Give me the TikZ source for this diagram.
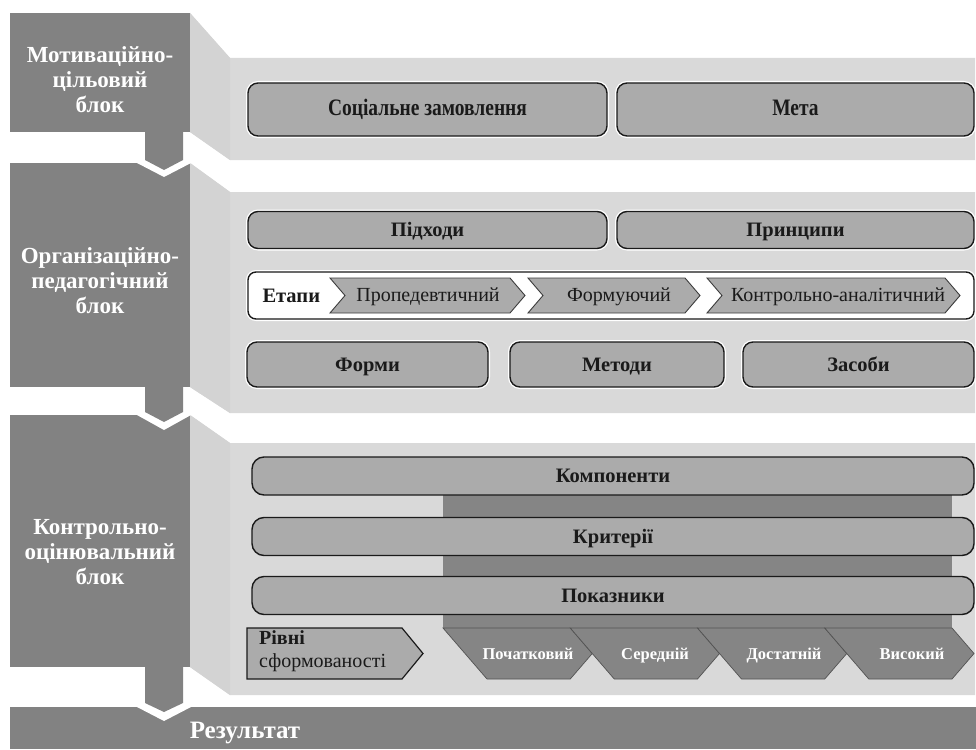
\documentclass[tikz,border=0pt]{standalone}
\usepackage{fontspec}
\setmainfont{Liberation Serif}
\usetikzlibrary{positioning}
\definecolor{blockgray}{HTML}{828282}
\definecolor{panelgray}{HTML}{D9D9D9}
\definecolor{sidegray}{HTML}{D3D3D3}
\definecolor{boxgray}{HTML}{ABABAB}
\definecolor{bandgray}{HTML}{858585}
\definecolor{ink}{HTML}{1A1A1A}
\newcommand\titlefont{\fontsize{23}{25}\selectfont\bfseries}
\newcommand\resultfont{\fontsize{25}{28}\selectfont\bfseries}
\newcommand\boxfont{\fontsize{20.5}{23}\selectfont\bfseries}
\newcommand\stagefont{\fontsize{20}{23}\selectfont}
\newcommand\levelfont{\fontsize{16.5}{19}\selectfont\bfseries}

\begin{document}
\begin{tikzpicture}[x=1pt, y=-1pt,
  roundbox/.style={draw=ink, fill=boxgray, line width=1.4pt, rounded corners=10pt,
    preaction={draw=white, line width=4pt}, text=ink, font=\boxfont, inner sep=0pt,
    text height=13.5pt, text depth=0.5pt},
  barbox/.style={draw=ink, fill=boxgray, line width=1.4pt, rounded corners=12pt,
    text=ink, font=\boxfont, inner sep=0pt, text height=13.5pt, text depth=0.5pt},
  stagebox/.style={draw=ink!85, fill=boxgray, line width=0.9pt},
  lvlshape/.style={draw=ink!75, fill=bandgray, line width=0.7pt},
  blocktitle/.style={text=white, font=\titlefont, align=center},
  stagetext/.style={text=ink, font=\stagefont, inner sep=0pt, text height=13pt, text depth=0.5pt},
  lvltext/.style={text=white, font=\levelfont, inner sep=0pt, text height=11pt, text depth=0.5pt}]

% Background
\fill[white] (0,0) rectangle (976,749);
\useasboundingbox (0,0) rectangle (976,749);

% --- Light panels (drawn before the dark blocks) ---
\fill[panelgray] (190,13) -- (230,58) -- (975,58) -- (975,160) -- (230,160) -- (190,132) -- cycle;
\fill[sidegray] (190,13) -- (230,58) -- (230,160) -- (190,132) -- cycle;

\fill[panelgray] (190,163) -- (230,192) -- (975,192) -- (975,413) -- (230,413) -- (190,387) -- cycle;
\fill[sidegray] (190,163) -- (230,192) -- (230,413) -- (190,387) -- cycle;

\fill[panelgray] (190,415) -- (230,443) -- (975,443) -- (975,695) -- (230,695) -- (190,667) -- cycle;
\fill[sidegray] (190,415) -- (230,443) -- (230,695) -- (190,667) -- cycle;

% --- Dark blocks ---
\fill[blockgray] (10,13) rectangle (190,132);
\fill[blockgray] (10,163) rectangle (190,387);
\fill[blockgray] (10,415) rectangle (190,667);
\fill[blockgray] (10,707) rectangle (976,749);

% White notches under the arrow tips
\fill[white] (137,163) -- (164,177) -- (191,163) -- cycle;
\fill[white] (137,415) -- (164,430) -- (191,415) -- cycle;
\fill[white] (137,707) -- (164,721) -- (191,707) -- cycle;

% Arrows between the blocks
\fill[blockgray] (145,130) -- (183,130) -- (183,160) -- (164,170) -- (145,160) -- cycle;
\fill[blockgray] (145,385) -- (183,385) -- (183,412) -- (164,422) -- (145,412) -- cycle;
\fill[blockgray] (145,665) -- (183,665) -- (183,703) -- (164,712) -- (145,703) -- cycle;

% --- Block titles ---
\node[blocktitle] (motiv) at (100,80) {Мотиваційно-\\цільовий\\блок};
\node[blocktitle] (orgped) at (100,281) {Організаційно-\\педагогічний\\блок};
\node[blocktitle] (kontrol) at (100,552) {Контрольно-\\оцінювальний\\блок};
\node[text=white, font=\resultfont] (result) at (245,733) {Результат};

% --- Motivation block ---
\node[roundbox, minimum width=359pt, minimum height=53pt] (zamov) at (427.5,109.5) {\scalebox{0.95}[1.15]{Соціальне замовлення}};
\node[roundbox, minimum width=357pt, minimum height=53pt] (meta) at (795.5,109.5) {\scalebox{0.95}[1.15]{Мета}};

% --- Organisation block ---
\node[roundbox, minimum width=359pt, minimum height=37pt] (pidkhody) at (427.5,230) {Підходи};
\node[roundbox, minimum width=357pt, minimum height=37pt] (pryntsypy) at (795.5,230) {Принципи};

\node[roundbox, fill=white, rounded corners=8pt, minimum width=726pt, minimum height=47pt] (etapy) at (611,295.5) {};
\node[right=15pt of etapy.west, text=ink, font=\boxfont, inner sep=0pt, text height=13.5pt, text depth=0.5pt] (etapylabel) {Етапи};

\draw[stagebox] (330,278) -- (510,278) -- (525,295.5) -- (510,313) -- (330,313) -- (345,295.5) -- cycle;
\draw[stagebox] (528,278) -- (685,278) -- (700,295.5) -- (685,313) -- (528,313) -- (543,295.5) -- cycle;
\draw[stagebox] (707,278) -- (945,278) -- (960,295.5) -- (945,313) -- (707,313) -- (722,295.5) -- cycle;
\node[stagetext] (proped) at (428,295.5) {Пропедевтичний};
\node[stagetext] (formuy) at (619,295.5) {Формуючий};
\node[stagetext] (kontran) at (838,295.5) {Контрольно-аналітичний};

\node[roundbox, minimum width=241pt, minimum height=45pt] (formy) at (367.5,364.5) {Форми};
\node[roundbox, minimum width=214pt, minimum height=45pt] (metody) at (617,364.5) {Методи};
\node[roundbox, minimum width=231pt, minimum height=45pt] (zasoby) at (858.5,364.5) {Засоби};

% --- Control block ---
\fill[bandgray] (443,476) rectangle (952,628);

\node[barbox, minimum width=722pt, minimum height=38pt] (kompon) at (613,476) {Компоненти};
\node[barbox, minimum width=722pt, minimum height=38pt] (kryter) at (613,536.5) {Критерії};
\node[barbox, minimum width=722pt, minimum height=38pt] (pokazn) at (613,595.5) {Показники};

% Levels of formation
\draw[draw=ink, fill=boxgray, line width=1.2pt] (247,628) -- (402,628) -- (423,653.5) -- (402,679) -- (247,679) -- cycle;
\node[anchor=west, align=left, text=ink, font=\stagefont, inner sep=0pt] (rivni) at (259,651.5) {\textbf{Рівні}\\сформованості};

\draw[lvlshape] (443,628) -- (570.25,628) -- (592.25,653.5) -- (570.25,679) -- (487,679) -- cycle;
\draw[lvlshape] (570.25,628) -- (697.5,628) -- (719.5,653.5) -- (697.5,679) -- (614.25,679) -- cycle;
\draw[lvlshape] (697.5,628) -- (824.75,628) -- (846.75,653.5) -- (824.75,679) -- (741.5,679) -- cycle;
\draw[lvlshape] (824.75,628) -- (952,628) -- (974,653.5) -- (952,679) -- (868.75,679) -- cycle;

\node[lvltext] (pochat) at (528,654) {Початковий};
\node[lvltext] (seredn) at (655,654) {Середній};
\node[lvltext] (dostat) at (784,654) {Достатній};
\node[lvltext] (vysok) at (912,654) {Високий};

\end{tikzpicture}
\end{document}
